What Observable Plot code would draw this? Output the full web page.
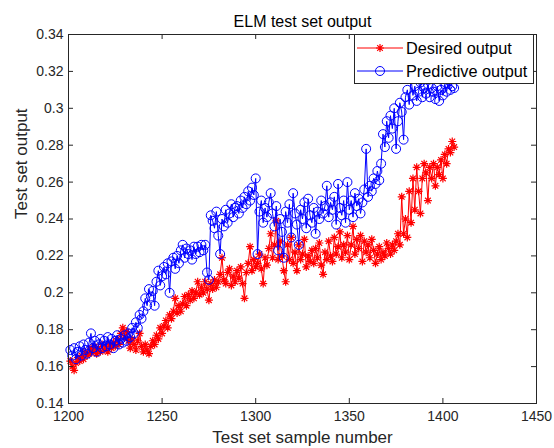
<!DOCTYPE html>
<html><head><meta charset="utf-8">
<script src="https://cdn.jsdelivr.net/npm/d3@7"></script>
<script src="https://cdn.jsdelivr.net/npm/@observablehq/plot@0.6"></script>
<style>
body{margin:0;background:#fff;font-family:"Liberation Sans",Arial,sans-serif;}
#wrap{position:relative;width:554px;height:448px;}
#legend{position:absolute;left:354px;top:34px;width:180px;height:50px;border:1px solid #262626;background:#fff;box-sizing:border-box;color:#000;font-size:16.3px;}
.row{position:absolute;left:0;width:180px;height:22px;display:flex;align-items:center;white-space:nowrap;}
.row svg{display:block;flex-shrink:0;margin-left:2px;margin-right:3px;}
</style></head><body><div id="wrap"></div>
<script>
const startSample = 1201;
const desired = [
0.163,0.160,0.158,0.162,0.165,0.163,0.166,0.164,0.168,0.166,
0.167,0.170,0.168,0.171,0.167,0.170,0.168,0.172,0.169,0.171,
0.168,0.172,0.170,0.173,0.171,0.175,0.172,0.178,0.181,0.176,
0.179,0.174,0.170,0.175,0.172,0.169,0.174,0.178,0.171,0.168,
0.172,0.169,0.167,0.171,0.174,0.172,0.177,0.175,0.181,0.178,
0.182,0.185,0.181,0.188,0.186,0.190,0.197,0.189,0.193,0.190,
0.194,0.198,0.193,0.199,0.196,0.201,0.197,0.200,0.206,0.199,
0.203,0.200,0.206,0.202,0.196,0.205,0.202,0.207,0.203,0.206,
0.210,0.219,0.207,0.205,0.211,0.213,0.204,0.209,0.206,0.212,
0.208,0.214,0.205,0.197,0.211,0.216,0.225,0.212,0.218,0.214,
0.216,0.221,0.213,0.205,0.219,0.215,0.224,0.232,0.219,0.226,
0.239,0.218,0.228,0.220,0.212,0.206,0.226,0.218,0.230,0.216,
0.222,0.212,0.226,0.218,0.221,0.229,0.214,0.220,0.217,0.223,
0.216,0.224,0.219,0.227,0.215,0.210,0.222,0.218,0.228,0.220,
0.217,0.230,0.221,0.225,0.233,0.219,0.226,0.222,0.231,0.218,
0.226,0.236,0.221,0.229,0.224,0.231,0.217,0.228,0.222,0.226,
0.219,0.229,0.223,0.216,0.221,0.225,0.218,0.222,0.220,0.227,
0.224,0.221,0.226,0.223,0.228,0.232,0.226,0.252,0.232,0.240,
0.230,0.255,0.238,0.262,0.245,0.268,0.255,0.243,0.262,0.270,
0.265,0.250,0.268,0.262,0.270,0.258,0.268,0.264,0.272,0.262,
0.275,0.270,0.278,0.276,0.282,0.279
];
const predictive = [
0.169,0.166,0.170,0.164,0.168,0.171,0.166,0.172,0.169,0.167,
0.173,0.178,0.170,0.174,0.168,0.172,0.175,0.170,0.174,0.171,
0.176,0.172,0.175,0.170,0.174,0.177,0.172,0.175,0.173,0.177,
0.174,0.178,0.176,0.181,0.178,0.184,0.181,0.188,0.186,0.190,
0.197,0.193,0.202,0.198,0.201,0.193,0.206,0.212,0.204,0.209,
0.214,0.210,0.216,0.200,0.217,0.219,0.213,0.220,0.216,0.223,
0.226,0.219,0.224,0.221,0.223,0.218,0.225,0.221,0.225,0.222,
0.226,0.223,0.226,0.211,0.207,0.242,0.239,0.235,0.244,0.231,
0.221,0.240,0.236,0.245,0.238,0.243,0.248,0.241,0.246,0.247,
0.243,0.250,0.246,0.252,0.248,0.255,0.250,0.257,0.253,0.262,
0.221,0.244,0.250,0.238,0.246,0.241,0.249,0.254,0.243,0.236,
0.247,0.223,0.240,0.233,0.219,0.244,0.238,0.248,0.230,0.254,
0.243,0.237,0.226,0.245,0.240,0.249,0.235,0.251,0.242,0.238,
0.246,0.232,0.244,0.240,0.250,0.243,0.247,0.258,0.241,0.249,
0.245,0.252,0.237,0.259,0.246,0.242,0.250,0.238,0.260,0.245,
0.250,0.241,0.254,0.247,0.251,0.243,0.249,0.256,0.278,0.252,
0.258,0.255,0.262,0.259,0.266,0.261,0.270,0.286,0.279,0.293,
0.284,0.296,0.289,0.300,0.278,0.293,0.303,0.298,0.283,0.306,
0.310,0.302,0.316,0.307,0.312,0.304,0.309,0.314,0.306,0.311,
0.308,0.313,0.306,0.311,0.309,0.305,0.312,0.304,0.310,0.307,
0.313,0.309,0.315,0.310,0.312,0.311
];
const xTicks = [1200,1250,1300,1350,1400,1450];
const xTickLabels = ["1200","1250","1300","1350","1400","1450"];
const yTicks = [0.14,0.16,0.18,0.2,0.22,0.24,0.26,0.28,0.3,0.32,0.34];
const yTickLabels = ["0.14","0.16","0.18","0.2","0.22","0.24","0.26","0.28","0.3","0.32","0.34"];
const seriesNames = ["Desired output","Predictive output"];
const seriesColors = ["#ff0000","#0000ff"];
const titleText = "ELM test set output";
const xLabelText = "Test set sample number";
const yLabelText = "Test set output";

const dataD = desired.map((v,i)=>({n: startSample+i, v}));
const dataP = predictive.map((v,i)=>({n: startSample+i, v}));

const asterisk = {
  draw(ctx, size) {
    const r = Math.sqrt(size/Math.PI), d = r*Math.SQRT1_2;
    ctx.moveTo(-r,0); ctx.lineTo(r,0);
    ctx.moveTo(0,-r); ctx.lineTo(0,r);
    ctx.moveTo(-d,-d); ctx.lineTo(d,d);
    ctx.moveTo(-d,d); ctx.lineTo(d,-d);
  }
};
const W = 554, H = 448, mT = 34, mB = 45, mL = 68, mR = 18;
const plotW = W - mL - mR, plotH = H - mT - mB, tickLen = 5;
const axisColor = "#262626";
const chart = Plot.plot({
  width: W, height: H,
  marginTop: mT, marginBottom: mB, marginLeft: mL, marginRight: mR,
  style: {fontFamily: "'Liberation Sans', Arial, sans-serif", fontSize: "14px", color: axisColor, background: "#fff", overflow: "visible"},
  x: {domain: [1200,1450]},
  y: {domain: [0.14,0.34]},
  marks: [
    Plot.line(dataD, {x:"n", y:"v", stroke: seriesColors[0], strokeWidth: 1}),
    Plot.dot(dataD, {x:"n", y:"v", r: 4, symbol: asterisk, stroke: seriesColors[0], strokeWidth: 1.2}),
    Plot.line(dataP, {x:"n", y:"v", stroke: seriesColors[1], strokeWidth: 1}),
    Plot.dot(dataP, {x:"n", y:"v", r: 4.5, symbol: "circle", stroke: seriesColors[1], fill: "none", strokeWidth: 1}),
    Plot.frame({stroke: axisColor}),
    Plot.tickX(xTicks, {x: d => d, insetTop: plotH - tickLen, stroke: axisColor}),
    Plot.tickX(xTicks, {x: d => d, insetBottom: plotH - tickLen, stroke: axisColor}),
    Plot.tickY(yTicks, {y: d => d, insetRight: plotW - tickLen, stroke: axisColor}),
    Plot.tickY(yTicks, {y: d => d, insetLeft: plotW - tickLen, stroke: axisColor}),
    Plot.axisX(xTicks, {anchor:"bottom", tickSize: 0, tickPadding: 8, fontSize: 14, label: null, fill: axisColor, tickFormat: d => xTickLabels[xTicks.indexOf(d)]}),
    Plot.axisY(yTicks, {anchor:"left", tickSize: 0, tickPadding: 5, fontSize: 14, label: null, fill: axisColor, tickFormat: d => yTickLabels[yTicks.indexOf(d)]}),
    Plot.text([titleText], {frameAnchor: "top", dy: -8, lineAnchor: "bottom", fontSize: 16, fill: "#000"}),
    Plot.text([xLabelText], {frameAnchor: "bottom", dy: 34, lineAnchor: "middle", fontSize: 17, fill: axisColor}),
    Plot.text([yLabelText], {frameAnchor: "left", dx: -47, rotate: -90, lineAnchor: "middle", fontSize: 17, fill: axisColor})
  ]
});
const wrap = document.getElementById("wrap");
wrap.appendChild(chart);

const legend = document.createElement("div");
legend.id = "legend";
const markers = [
  `<line x1="0" y1="6" x2="46" y2="6" stroke="${seriesColors[0]}" stroke-width="1"/>` +
  `<path d="M19,6H27M23,2V10M20.2,3.2L25.8,8.8M20.2,8.8L25.8,3.2" stroke="${seriesColors[0]}" stroke-width="1.2" fill="none"/>`,
  `<line x1="0" y1="6" x2="46" y2="6" stroke="${seriesColors[1]}" stroke-width="1"/>` +
  `<circle cx="23" cy="6" r="4.5" stroke="${seriesColors[1]}" stroke-width="1" fill="none"/>`
];
seriesNames.forEach((name,i)=>{
  const row = document.createElement("div");
  row.className = "row";
  row.style.top = (2 + i*23) + "px";
  row.innerHTML = `<svg width="46" height="12">${markers[i]}</svg><span>${name}</span>`;
  legend.appendChild(row);
});
wrap.appendChild(legend);
</script>
</body></html>
